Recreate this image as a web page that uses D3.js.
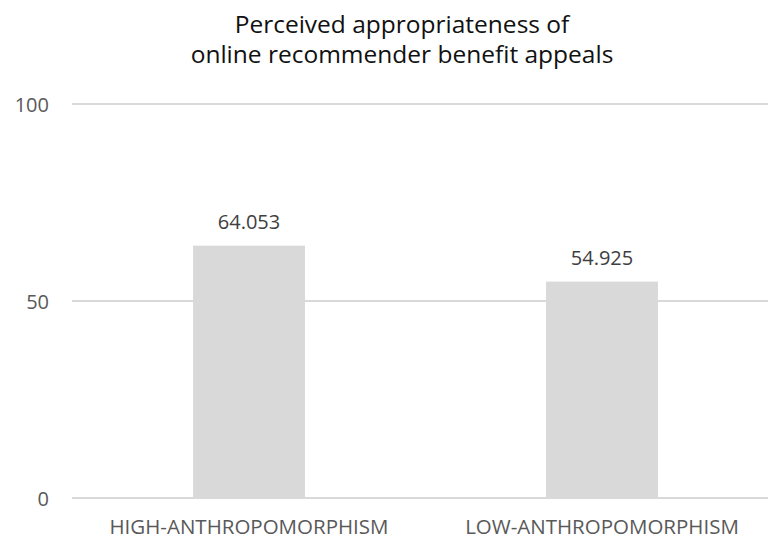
<!DOCTYPE html>
<html>
<head>
<meta charset="utf-8">
<script src="https://cdn.jsdelivr.net/npm/d3@7"></script>
<style>
  html, body { margin: 0; padding: 0; background: #fff; }
  svg { display: block; }
  text { font-family: "Open Sans", "Noto Sans", sans-serif; }
</style>
</head>
<body>
<svg id="chart" width="768" height="540"></svg>
<script>
const categories = ["HIGH-ANTHROPOMORPHISM", "LOW-ANTHROPOMORPHISM"];
const values = [64.053, 54.925];
const valueLabels = ["64.053", "54.925"];
const yTicks = [0, 50, 100];
const titleLines = ["Perceived appropriateness of", "online recommender benefit appeals"];

const W = 768, H = 540;
const svg = d3.select("#chart");

const y = d3.scaleLinear().domain([0, 100]).range([498, 104]);
const x = d3.scaleBand().domain(categories).range([72.5, 778.5])
  .paddingInner(0.683).paddingOuter(0.3415);

// gridlines
svg.append("g").selectAll("line").data(yTicks).join("line")
  .attr("x1", 72).attr("x2", W)
  .attr("y1", d => y(d)).attr("y2", d => y(d))
  .attr("stroke", "#d9d9d9").attr("stroke-width", 2);

// y tick labels
svg.append("g").selectAll("text").data(yTicks).join("text")
  .attr("x", 49).attr("y", d => y(d))
  .attr("text-anchor", "end").attr("dominant-baseline", "central")
  .attr("font-size", 20).attr("fill", "#595959")
  .text(d => d);

// bars
svg.append("g").selectAll("rect").data(values).join("rect")
  .attr("x", (d, i) => x(categories[i]))
  .attr("width", x.bandwidth())
  .attr("y", d => y(d))
  .attr("height", d => y(0) - y(d))
  .attr("fill", "#d9d9d9");

// value labels
svg.append("g").selectAll("text").data(values).join("text")
  .attr("x", (d, i) => x(categories[i]) + x.bandwidth() / 2)
  .attr("y", d => y(d) - 17)
  .attr("text-anchor", "middle")
  .attr("font-size", 20).attr("fill", "#404040")
  .text((d, i) => valueLabels[i]);

// category labels
svg.append("g").selectAll("text").data(categories).join("text")
  .attr("x", d => x(d) + x.bandwidth() / 2)
  .attr("y", 534)
  .attr("text-anchor", "middle")
  .attr("font-size", 20.5).attr("fill", "#595959")
  .text(d => d);

// title
svg.append("g").selectAll("text").data(titleLines).join("text")
  .attr("x", 402)
  .attr("y", (d, i) => 33 + i * 30)
  .attr("text-anchor", "middle")
  .attr("font-size", 24.5).attr("fill", "#111")
  .text(d => d);
</script>
</body>
</html>
